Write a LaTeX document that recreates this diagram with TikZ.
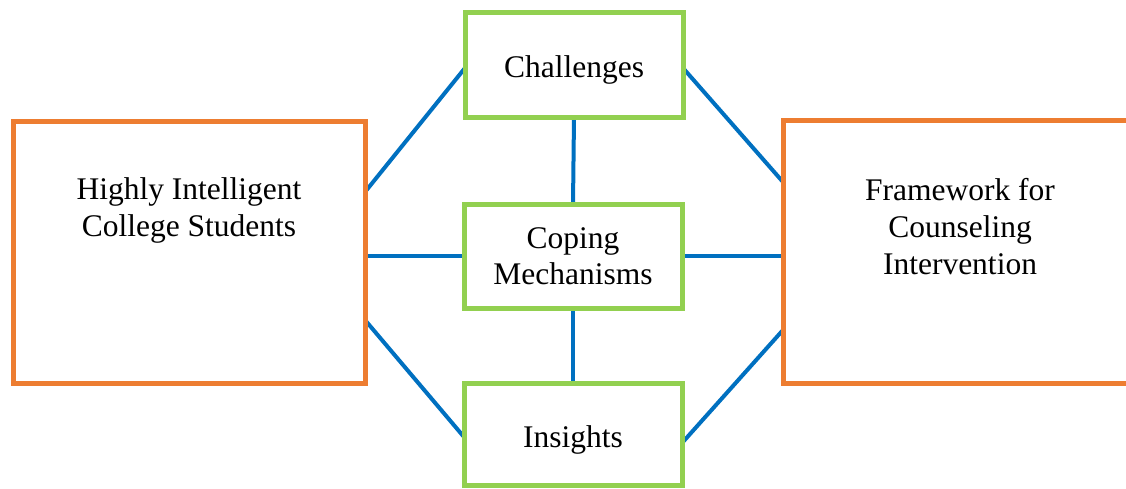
\documentclass[tikz,border=0pt]{standalone}
\usepackage{fontspec}
\setmainfont{Liberation Serif}
\usetikzlibrary{backgrounds}
\definecolor{frameorange}{HTML}{ED7D31}
\definecolor{themegreen}{HTML}{92D050}
\definecolor{linkblue}{HTML}{0070C0}
\begin{document}
\begin{tikzpicture}[x=1pt,y=1pt,
  outerbox/.style={draw=frameorange,line width=5pt,fill=white,inner sep=0pt,outer sep=0pt,
    minimum width=352pt,minimum height=262pt},
  topicbox/.style={draw=themegreen,line width=5pt,fill=white,inner sep=0pt,outer sep=0pt,
    minimum width=218pt,minimum height=104pt,align=center,
    font=\fontsize{31.5}{36.5}\selectfont},
  oneline/.style={text height=25pt,text depth=0pt},
  boxtext/.style={align=center,inner sep=0pt,font=\fontsize{31.5}{37}\selectfont},
  link/.style={draw=linkblue,line width=4pt}]
\useasboundingbox (0,0) rectangle (1126,-488);
\clip (0,0) rectangle (1126,-488);

% main frames
\node[outerbox] (students) at (189,-252) {};
\node[outerbox,minimum width=354pt,minimum height=263pt] (framework) at (960,-251.5) {};
\node[boxtext] (studentstext) at (189,-210.5) {Highly Intelligent\\College Students};
\node[boxtext] (frameworktext) at (960,-226.5) {Framework for\\Counseling\\Intervention};

% central topics
\node[topicbox,oneline,minimum height=105pt] (challenges) at (574,-64.5) {Challenges};
\node[topicbox] (coping) at (573,-256) {Coping\\Mechanisms};
\node[topicbox,oneline,text height=26pt,minimum height=102pt] (insights) at (573,-434) {Insights};

% connectors
\begin{scope}[on background layer]
  \draw[link] ([yshift=60pt]students.east) -- ([yshift=-3.5pt]challenges.west);
  \draw[link] ([yshift=-3.5pt]challenges.east) -- ([yshift=69.5pt]framework.west);
  \draw[link] (students.east |- coping.west) -- (coping.west);
  \draw[link] (coping.east) -- (coping.east -| framework.west);
  \draw[link] (challenges.south) -- (coping.north);
  \draw[link] (coping.south) -- (insights.north);
  \draw[link] ([yshift=-68pt]students.east) -- ([yshift=-3pt]insights.west);
  \draw[link] ([yshift=-9pt]insights.east) -- ([yshift=-78.5pt]framework.west);
\end{scope}
\end{tikzpicture}
\end{document}
